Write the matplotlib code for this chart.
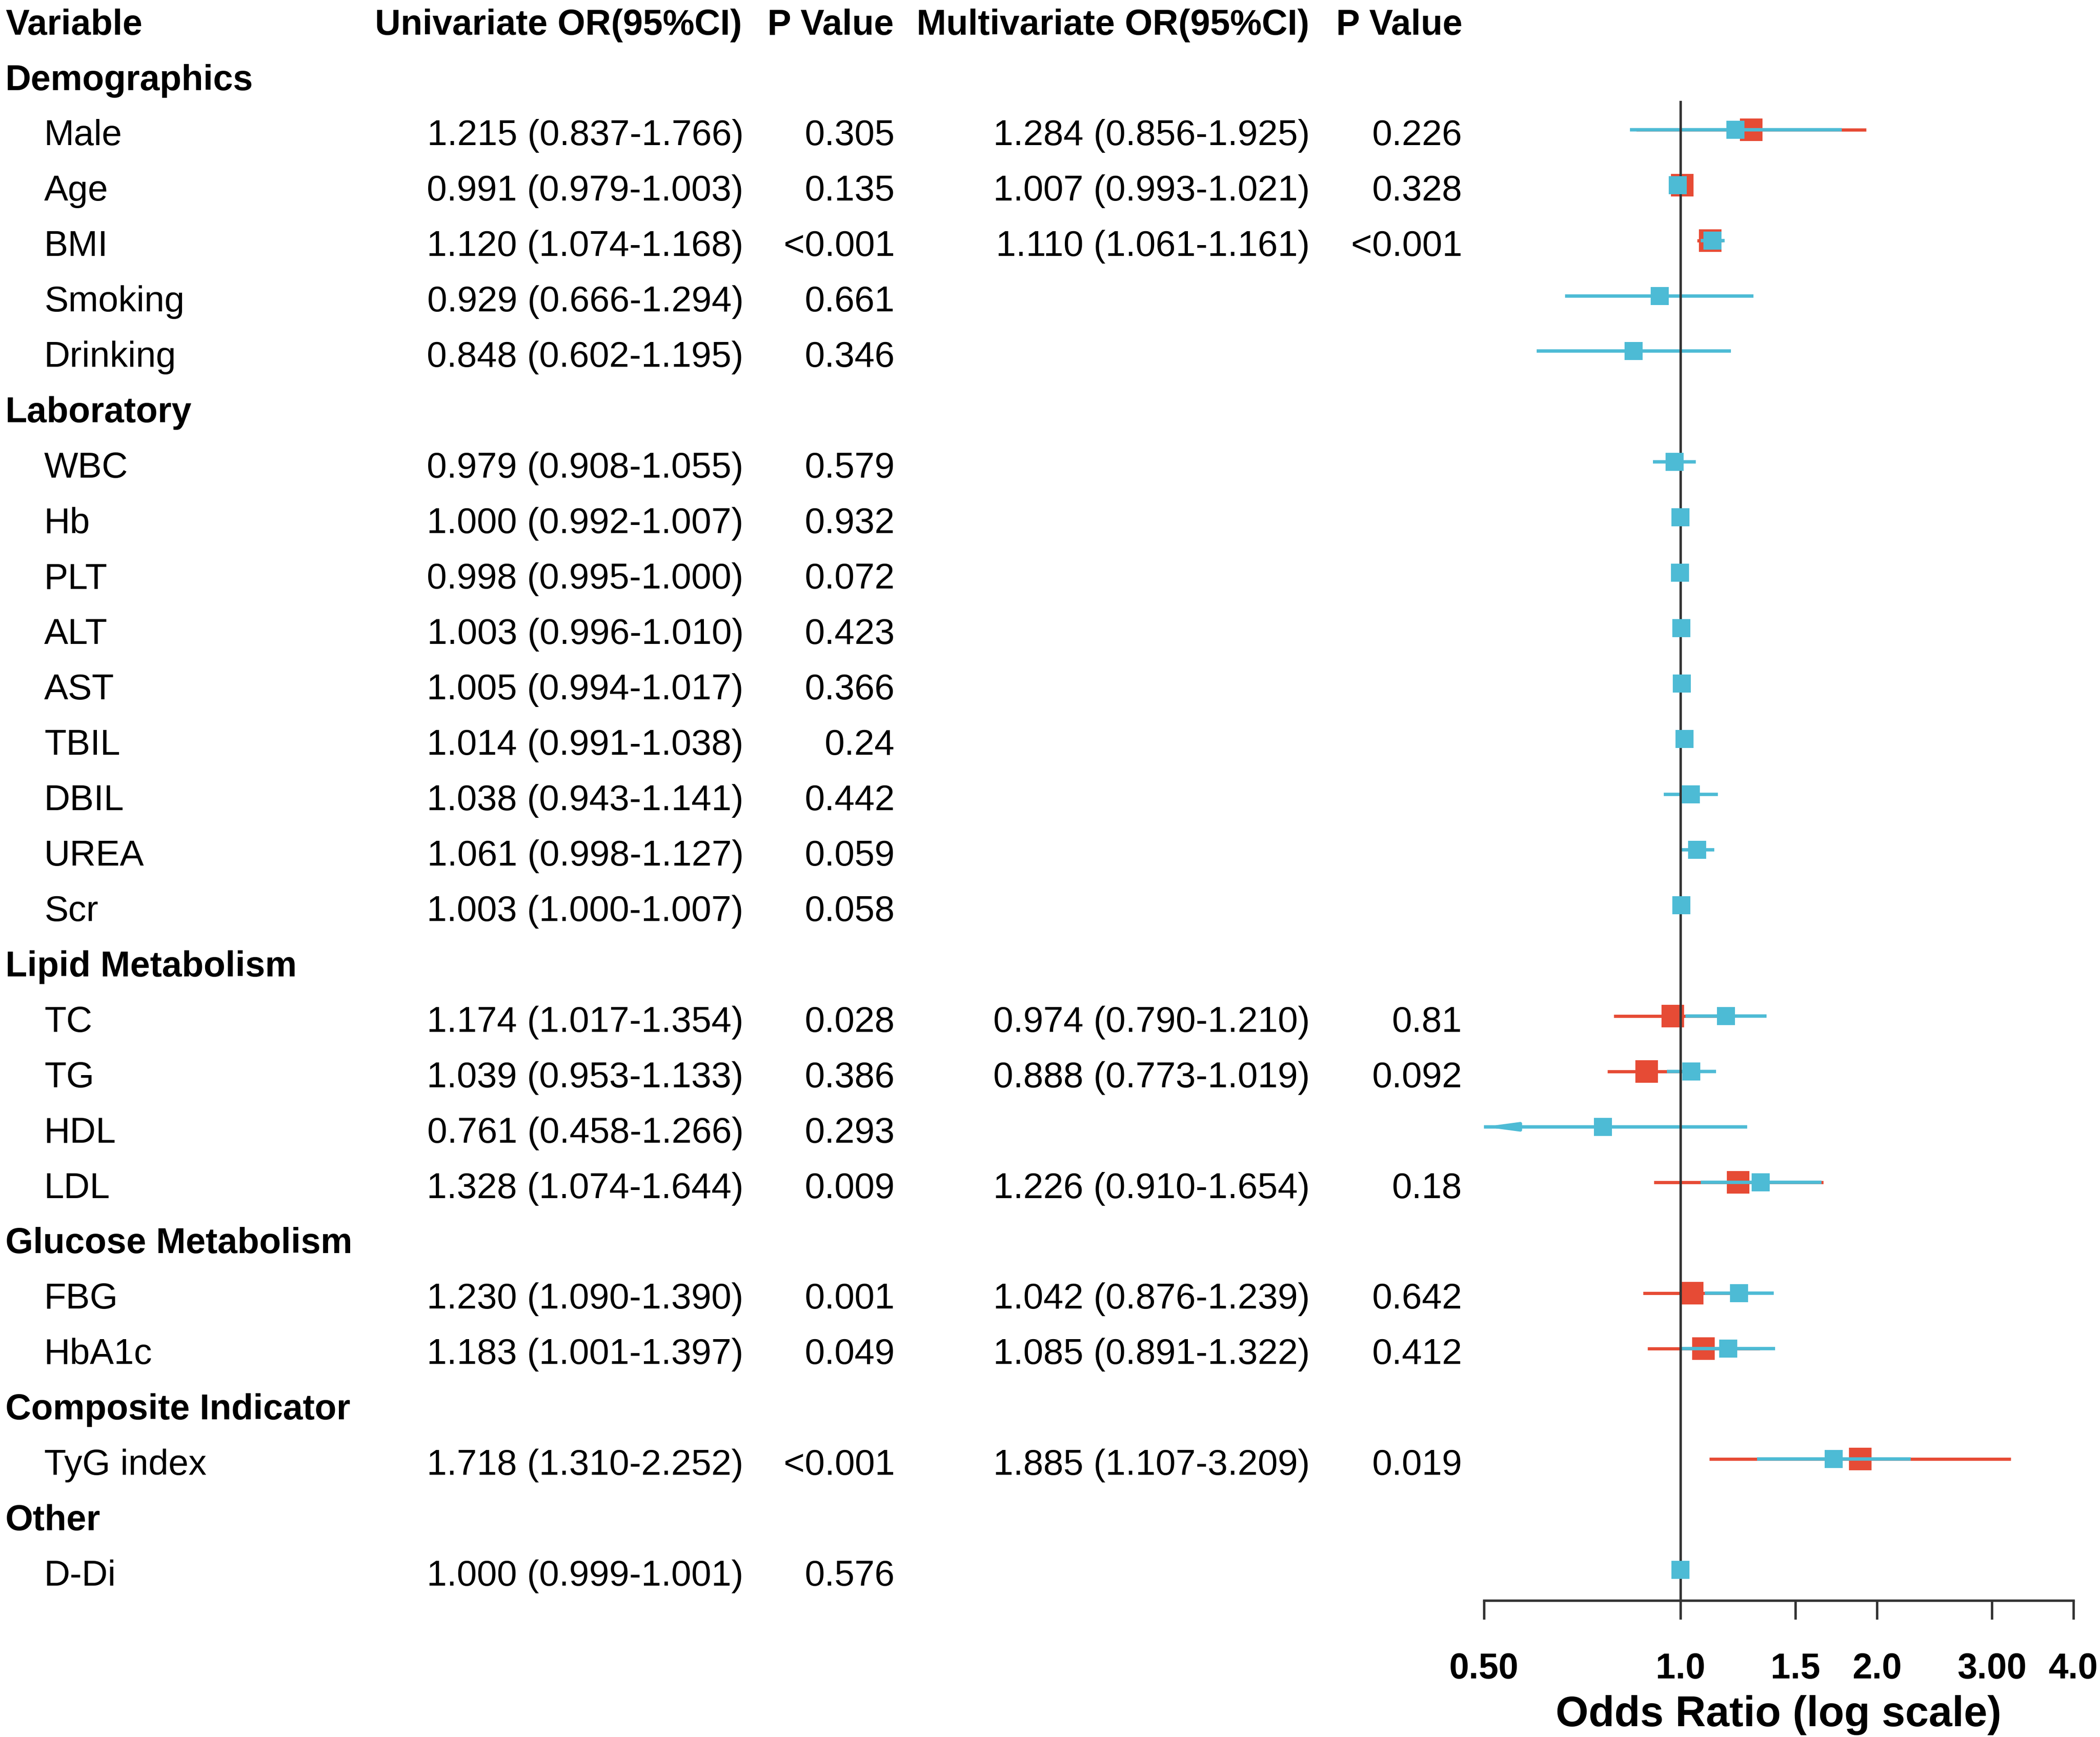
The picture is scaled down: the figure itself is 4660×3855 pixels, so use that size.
import numpy as np
import matplotlib.pyplot as plt
import matplotlib.transforms as mtransforms

plt.rcParams['font.family'] = ['Liberation Sans', 'DejaVu Sans']

# groups and the variables inside each one
groups = ['Demographics', 'Laboratory', 'Lipid Metabolism', 'Glucose Metabolism',
          'Composite Indicator', 'Other']
group_vars = [['Male', 'Age', 'BMI', 'Smoking', 'Drinking'],
              ['WBC', 'Hb', 'PLT', 'ALT', 'AST', 'TBIL', 'DBIL', 'UREA', 'Scr'],
              ['TC', 'TG', 'HDL', 'LDL'],
              ['FBG', 'HbA1c'],
              ['TyG index'],
              ['D-Di']]

# univariate results (same order as group_vars flattened)
uni_vars = ['Male', 'Age', 'BMI', 'Smoking', 'Drinking', 'WBC', 'Hb', 'PLT', 'ALT', 'AST',
            'TBIL', 'DBIL', 'UREA', 'Scr', 'TC', 'TG', 'HDL', 'LDL', 'FBG', 'HbA1c',
            'TyG index', 'D-Di']
uni_or = [1.215, 0.991, 1.120, 0.929, 0.848, 0.979, 1.000, 0.998, 1.003, 1.005,
          1.014, 1.038, 1.061, 1.003, 1.174, 1.039, 0.761, 1.328, 1.230, 1.183,
          1.718, 1.000]
uni_lo = [0.837, 0.979, 1.074, 0.666, 0.602, 0.908, 0.992, 0.995, 0.996, 0.994,
          0.991, 0.943, 0.998, 1.000, 1.017, 0.953, 0.458, 1.074, 1.090, 1.001,
          1.310, 0.999]
uni_hi = [1.766, 1.003, 1.168, 1.294, 1.195, 1.055, 1.007, 1.000, 1.010, 1.017,
          1.038, 1.141, 1.127, 1.007, 1.354, 1.133, 1.266, 1.644, 1.390, 1.397,
          2.252, 1.001]
uni_p = ['0.305', '0.135', '<0.001', '0.661', '0.346', '0.579', '0.932', '0.072', '0.423',
         '0.366', '0.24', '0.442', '0.059', '0.058', '0.028', '0.386', '0.293', '0.009',
         '0.001', '0.049', '<0.001', '0.576']

# multivariate results
multi_vars = ['Male', 'Age', 'BMI', 'TC', 'TG', 'LDL', 'FBG', 'HbA1c', 'TyG index']
multi_or = [1.284, 1.007, 1.110, 0.974, 0.888, 1.226, 1.042, 1.085, 1.885]
multi_lo = [0.856, 0.993, 1.061, 0.790, 0.773, 0.910, 0.876, 0.891, 1.107]
multi_hi = [1.925, 1.021, 1.161, 1.210, 1.019, 1.654, 1.239, 1.322, 3.209]
multi_p = ['0.226', '0.328', '<0.001', '0.81', '0.092', '0.18', '0.642', '0.412', '0.019']

xticks = [0.5, 1.0, 1.5, 2.0, 3.0, 4.0]
xtick_labels = ['0.50', '1.0', '1.5', '2.0', '3.00', '4.0']

blue = '#4DBBD5'
red = '#E64B35'
W, H = 4660, 3855

fig = plt.figure(figsize=(W / 300, H / 300), dpi=300)
ax = fig.add_axes([3293 / W, 1 - 3552 / H, (4601 - 3293) / W, 3552 / H])
ax.set_xscale('log')
ax.set_xlim(0.5, 4.0)
ax.set_ylim(28.5, -0.39)

tr = mtransforms.blended_transform_factory(fig.transFigure, ax.transData)
base = 0.233  # baseline offset so the cap height is centred on the row


def put(xpx, row, s, ha='left', bold=False):
    fig.text(xpx / W, row + base, s, ha=ha, va='baseline', transform=tr,
             fontsize=19 if bold else 19.2, fontweight='bold' if bold else 'normal')


# header
put(12, 0, 'Variable', bold=True)
put(1646, 0, 'Univariate OR(95%CI)', ha='right', bold=True)
put(1983, 0, 'P Value', ha='right', bold=True)
put(2905, 0, 'Multivariate OR(95%CI)', ha='right', bold=True)
put(3245, 0, 'P Value', ha='right', bold=True)

row = 1
var_rows = {}
for g, vs in zip(groups, group_vars):
    put(12, row, g, bold=True)
    row += 1
    for v in vs:
        var_rows[v] = row
        row += 1

for i, v in enumerate(uni_vars):
    r = var_rows[v]
    put(98, r, v)
    put(1650, r, f'{uni_or[i]:.3f} ({uni_lo[i]:.3f}-{uni_hi[i]:.3f})', ha='right')
    put(1986, r, uni_p[i], ha='right')

for i, v in enumerate(multi_vars):
    r = var_rows[v]
    put(2907, r, f'{multi_or[i]:.3f} ({multi_lo[i]:.3f}-{multi_hi[i]:.3f})', ha='right')
    put(3245, r, multi_p[i], ha='right')

# forest: multivariate (red) underneath, univariate (blue) on top
dy = -0.05
for i, v in enumerate(multi_vars):
    y = var_rows[v] + dy
    ax.plot([multi_lo[i], multi_hi[i]], [y, y], color=red, lw=1.7,
            solid_capstyle='butt', zorder=2)
    ax.plot(multi_or[i], y, marker='s', ms=12.2, color=red, mec='none', zorder=3)

for i, v in enumerate(uni_vars):
    y = var_rows[v] + dy
    lo = max(uni_lo[i], 0.5)
    ax.plot([lo, uni_hi[i]], [y, y], color=blue, lw=1.8,
            solid_capstyle='butt', zorder=4)
    if uni_lo[i] < 0.5:
        # CI runs past the axis: arrow at the left edge
        ax.annotate('', xy=(0.5, y), xytext=(0.56, y), annotation_clip=False,
                    arrowprops=dict(arrowstyle='-|>,head_length=0.45,head_width=0.06',
                                    color=blue, lw=1.8, mutation_scale=28,
                                    shrinkA=0, shrinkB=0), zorder=4)
    ax.plot(uni_or[i], y, marker='s', ms=9.6, color=blue, mec='none', zorder=6)

ax.plot([1, 1], [1.45, 28.5], color='#333333', lw=1.3, zorder=5, clip_on=False)

for s in ['top', 'right', 'left']:
    ax.spines[s].set_visible(False)
ax.spines['bottom'].set_color('#333333')
ax.spines['bottom'].set_linewidth(1.3)
ax.set_yticks([])
ax.minorticks_off()
ax.set_xticks(xticks)
ax.set_xticklabels(xtick_labels, fontsize=19, fontweight='bold')
ax.tick_params(axis='x', which='major', length=10, width=1.3, color='#333333', pad=17.5)
ax.tick_params(axis='x', which='minor', length=0)
ax.set_xlabel('Odds Ratio (log scale)', fontsize=22.5, fontweight='bold', labelpad=5)

fig.savefig('out.png', dpi=300)
